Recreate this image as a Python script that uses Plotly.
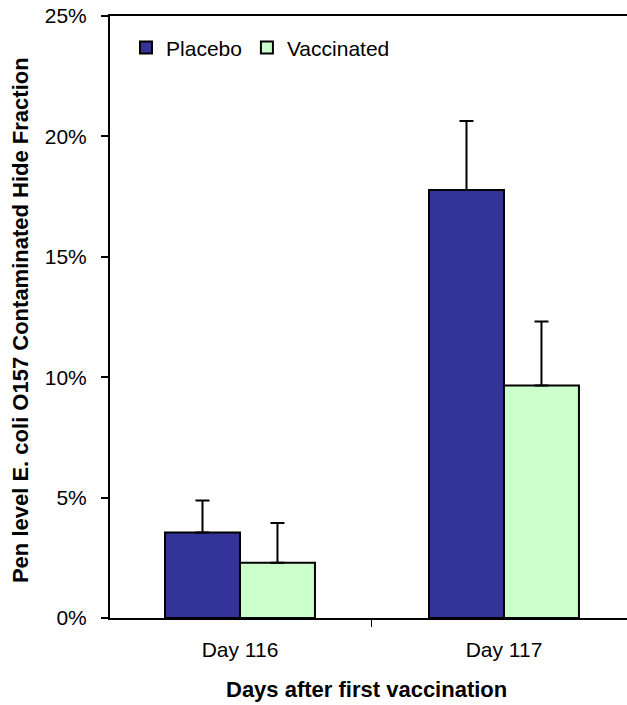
import plotly.graph_objects as go

categories = ["Day 116", "Day 117"]
placebo = [3.55, 17.77]
placebo_err = [1.33, 2.87]
vaccinated = [2.29, 9.66]
vaccinated_err = [1.66, 2.65]
y_ticks = [0, 5, 10, 15, 20, 25]
y_labels = ["0%", "5%", "10%", "15%", "20%", "25%"]

FONT = "Liberation Sans, Arial, sans-serif"

fig = go.Figure()
fig.add_trace(go.Bar(
    x=categories, y=placebo, name="Placebo",
    marker=dict(color="#333399", line=dict(color="black", width=2)),
    error_y=dict(type="data", array=placebo_err, symmetric=False, arrayminus=[0, 0],
                 color="black", thickness=2, width=7),
))
fig.add_trace(go.Bar(
    x=categories, y=vaccinated, name="Vaccinated",
    marker=dict(color="#CCFFCC", line=dict(color="black", width=2)),
    error_y=dict(type="data", array=vaccinated_err, symmetric=False, arrayminus=[0, 0],
                 color="black", thickness=2, width=7),
))

fig.update_layout(
    width=627, height=705,
    margin=dict(l=110, r=0, t=16, b=87),
    paper_bgcolor="white", plot_bgcolor="white",
    barmode="group", bargap=0.432, bargroupgap=0,
    font=dict(family=FONT, size=21, color="black"),
    showlegend=True,
    legend=dict(orientation="h", x=0.031, xanchor="left", y=0.947, yanchor="middle",
                font=dict(size=21), bgcolor="rgba(0,0,0,0)", traceorder="normal",
                itemwidth=30),
    xaxis=dict(
        type="category", range=[-0.4924, 1.466],
        showline=True, linecolor="black", linewidth=2, mirror=True,
        ticks="outside", tickson="boundaries", ticklen=7, tickwidth=1, tickcolor="black",
        showgrid=False, zeroline=False, ticklabelstandoff=12,
        tickfont=dict(size=21),
    ),
    yaxis=dict(
        range=[0, 25], tickvals=y_ticks, ticktext=y_labels,
        showline=True, linecolor="black", linewidth=2,
        ticks="outside", ticklen=7, tickwidth=2, tickcolor="black",
        showgrid=False, zeroline=False, ticklabelstandoff=10,
        tickfont=dict(size=21),
    ),
    annotations=[
        dict(text="<b>Pen level E. coli O157 Contaminated Hide Fraction</b>",
             xref="paper", yref="paper", x=-0.174, y=0.495, textangle=-90,
             showarrow=False, font=dict(size=22), xanchor="center", yanchor="middle"),
        dict(text="<b>Days after first vaccination</b>",
             xref="paper", yref="paper", x=0.497, y=-0.1196,
             showarrow=False, font=dict(size=22), xanchor="center", yanchor="middle"),
    ],
)

fig.write_html("out.html", config={"displayModeBar": False},
               post_script="document.body.style.margin='0';")
